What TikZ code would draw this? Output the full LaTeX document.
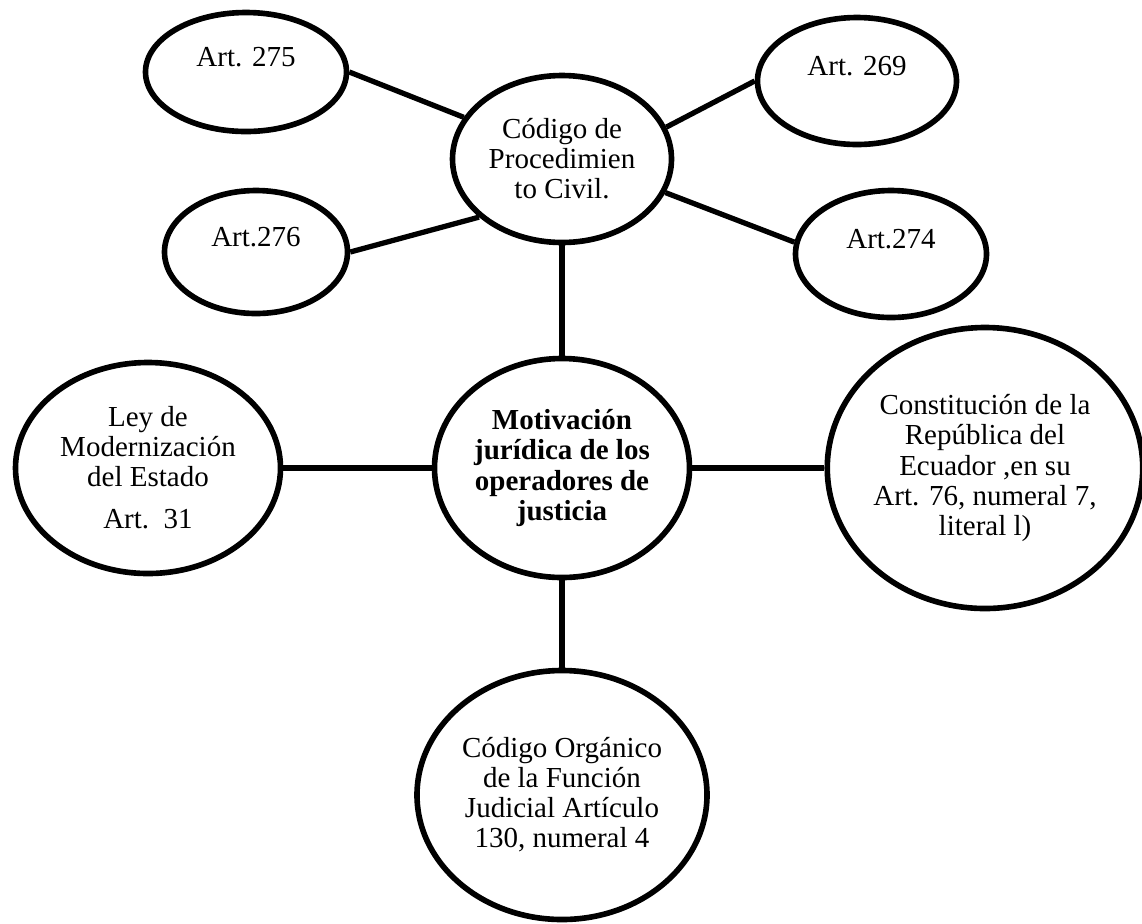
\documentclass[tikz,border=0pt]{standalone}
\usepackage{fontspec}
\setmainfont{Liberation Serif}
\usetikzlibrary{shapes}
\usetikzlibrary{backgrounds}

\begin{document}
\begin{tikzpicture}[link/.style={line width=3pt}]
      \useasboundingbox (0,0) rectangle (22.84,-18.46);
      \begin{scope}[shape=ellipse,inner sep=0pt,align=center,font=\fontsize{16.5pt}{17.1pt}\selectfont]
          \tikzstyle{every node}=[draw,line width=3.2pt]
          \node[minimum width=4.02cm,minimum height=2.38cm] (art275) at (4.92,-1.44)  {Art. 275\\\mbox{}};
          \node[minimum width=3.66cm,minimum height=2.46cm] (art276) at (5.12,-5.04)  {Art.276\\\mbox{}};
          \node[minimum width=3.98cm,minimum height=2.54cm] (art269) at (17.14,-1.62) {Art. 269\\\mbox{}};
          \node[minimum width=3.82cm,minimum height=2.54cm] (art274) at (17.82,-5.08) {Art.274\\\mbox{}};
          \node[minimum width=4.38cm,minimum height=3.34cm] (cpc)    at (11.24,-3.18) {Código de\\Procedimien\\to Civil.};
          \node[minimum width=5.10cm,minimum height=4.38cm] (motiv)  at (11.24,-9.36) {\bfseries Motivación\\\bfseries jurídica de los\\\bfseries operadores de\\\bfseries justicia};
          \node[minimum width=5.30cm,minimum height=4.22cm] (ley)    at (2.96,-9.36)  {Ley de\\Modernización\\del Estado\\[0.24cm]Art.\ \ 31};
          \node[minimum width=6.22cm,minimum height=5.62cm] (const)  at (19.70,-9.36) {Constitución de la\\República del\\Ecuador ,en su\\Art. 76, numeral 7,\\literal l)};
          \node[minimum width=5.80cm,minimum height=4.98cm] (coj)    at (11.24,-15.90) {Código Orgánico\\de la Función\\Judicial Artículo\\130, numeral 4};
      \end{scope}

      \draw[link] (art275.east) -- (cpc.157);
      \draw[link] (art276.east) -- (cpc.215);
      \draw[link] (cpc.17)      -- (art269.west);
      \draw[link] (cpc.-18)     -- (art274.173);
      \draw[link] (cpc.south)   -- (motiv.north);
      \draw[link] (ley.east)    -- (motiv.west);
      \draw[link] (motiv.east)  -- (const.west);
      \draw[link] (motiv.south) -- (coj.north);
  \end{tikzpicture}
\end{document}
